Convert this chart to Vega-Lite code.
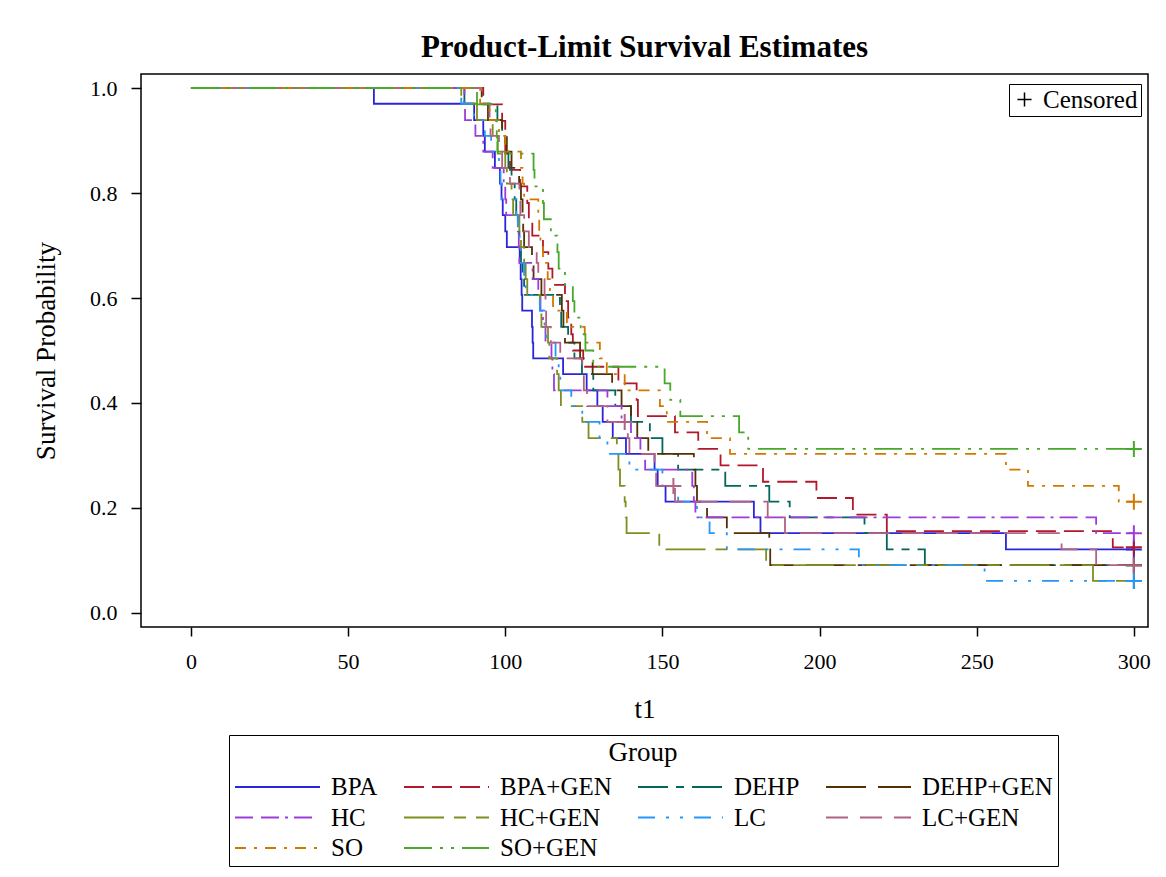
{
"$schema": "https://vega.github.io/schema/vega-lite/v6.json",
"width": 1007, "height": 553,
"autosize": {"type": "none"},
"padding": {"left": 141, "top": 74, "right": 18, "bottom": 250},
"background": "white",
"config": {"font": "Liberation Serif", "view": {"stroke": "#000", "strokeWidth": 1.5},
 "axis": {"labelFont": "Liberation Serif", "titleFont": "Liberation Serif"},
 "legend": {"labelFont": "Liberation Serif", "titleFont": "Liberation Serif"}},
"title": {"text": "Product-Limit Survival Estimates", "font": "Liberation Serif", "fontSize": 31, "fontWeight": "bold", "color": "black", "anchor": "middle", "offset": -14, "baseline": "alphabetic"},
"datasets": {
"km": [
{"group":"BPA","t":0,"s":1},{"group":"BPA","t":58.2,"s":0.970},{"group":"BPA","t":90.1,"s":0.939},{"group":"BPA","t":93,"s":0.909},{"group":"BPA","t":93.5,"s":0.879},{"group":"BPA","t":96.7,"s":0.848},{"group":"BPA","t":98.3,"s":0.818},{"group":"BPA","t":98.8,"s":0.788},{"group":"BPA","t":99.2,"s":0.758},{"group":"BPA","t":100,"s":0.727},{"group":"BPA","t":100.5,"s":0.697},{"group":"BPA","t":104.6,"s":0.667},{"group":"BPA","t":104.9,"s":0.636},{"group":"BPA","t":105.2,"s":0.606},{"group":"BPA","t":105.4,"s":0.576},{"group":"BPA","t":108.5,"s":0.545},{"group":"BPA","t":108.7,"s":0.515},{"group":"BPA","t":108.9,"s":0.485},{"group":"BPA","t":118.4,"s":0.455},{"group":"BPA","t":125.9,"s":0.424},{"group":"BPA","t":129.3,"s":0.394},{"group":"BPA","t":131,"s":0.364},{"group":"BPA","t":134.2,"s":0.333},{"group":"BPA","t":138.4,"s":0.303},{"group":"BPA","t":147.5,"s":0.273},{"group":"BPA","t":148.5,"s":0.242},{"group":"BPA","t":151,"s":0.212},{"group":"BPA","t":179.1,"s":0.182},{"group":"BPA","t":181.2,"s":0.152},{"group":"BPA","t":259.3,"s":0.121},{"group":"BPA","t":300,"s":0.121},
{"group":"BPA+GEN","t":0,"s":1},{"group":"BPA+GEN","t":93,"s":0.969},{"group":"BPA+GEN","t":99,"s":0.9375},{"group":"BPA+GEN","t":100,"s":0.875},{"group":"BPA+GEN","t":101.5,"s":0.844},{"group":"BPA+GEN","t":104.7,"s":0.8125},{"group":"BPA+GEN","t":107,"s":0.781},{"group":"BPA+GEN","t":107.5,"s":0.75},{"group":"BPA+GEN","t":108.6,"s":0.719},{"group":"BPA+GEN","t":112,"s":0.6875},{"group":"BPA+GEN","t":113.7,"s":0.656},{"group":"BPA+GEN","t":115,"s":0.625},{"group":"BPA+GEN","t":119,"s":0.594},{"group":"BPA+GEN","t":120,"s":0.5625},{"group":"BPA+GEN","t":121,"s":0.531},{"group":"BPA+GEN","t":121.5,"s":0.5},{"group":"BPA+GEN","t":124.8,"s":0.469},{"group":"BPA+GEN","t":136,"s":0.4375},{"group":"BPA+GEN","t":141.8,"s":0.406},{"group":"BPA+GEN","t":142.2,"s":0.375},{"group":"BPA+GEN","t":154,"s":0.344},{"group":"BPA+GEN","t":161.4,"s":0.3125},{"group":"BPA+GEN","t":168.5,"s":0.281},{"group":"BPA+GEN","t":182,"s":0.25},{"group":"BPA+GEN","t":199,"s":0.219},{"group":"BPA+GEN","t":210.6,"s":0.1875},{"group":"BPA+GEN","t":221.4,"s":0.156},{"group":"BPA+GEN","t":293.3,"s":0.125},{"group":"BPA+GEN","t":300,"s":0.125},
{"group":"DEHP","t":0,"s":1},{"group":"DEHP","t":87,"s":0.970},{"group":"DEHP","t":97.5,"s":0.939},{"group":"DEHP","t":99,"s":0.909},{"group":"DEHP","t":100,"s":0.879},{"group":"DEHP","t":101,"s":0.848},{"group":"DEHP","t":102,"s":0.818},{"group":"DEHP","t":103,"s":0.788},{"group":"DEHP","t":103.5,"s":0.758},{"group":"DEHP","t":104,"s":0.727},{"group":"DEHP","t":104.5,"s":0.697},{"group":"DEHP","t":105,"s":0.667},{"group":"DEHP","t":105.5,"s":0.636},{"group":"DEHP","t":106,"s":0.606},{"group":"DEHP","t":117.4,"s":0.576},{"group":"DEHP","t":117.8,"s":0.545},{"group":"DEHP","t":120,"s":0.515},{"group":"DEHP","t":122,"s":0.485},{"group":"DEHP","t":124.4,"s":0.455},{"group":"DEHP","t":128,"s":0.424},{"group":"DEHP","t":135,"s":0.394},{"group":"DEHP","t":140,"s":0.364},{"group":"DEHP","t":146,"s":0.333},{"group":"DEHP","t":150,"s":0.303},{"group":"DEHP","t":155,"s":0.273},{"group":"DEHP","t":170,"s":0.242},{"group":"DEHP","t":184,"s":0.212},{"group":"DEHP","t":190.5,"s":0.182},{"group":"DEHP","t":214.3,"s":0.152},{"group":"DEHP","t":221.4,"s":0.121},{"group":"DEHP","t":233.5,"s":0.091},{"group":"DEHP","t":300,"s":0.091},
{"group":"DEHP+GEN","t":0,"s":1},{"group":"DEHP+GEN","t":92.5,"s":0.970},{"group":"DEHP+GEN","t":94.5,"s":0.939},{"group":"DEHP+GEN","t":99,"s":0.909},{"group":"DEHP+GEN","t":100.5,"s":0.879},{"group":"DEHP+GEN","t":102,"s":0.848},{"group":"DEHP+GEN","t":104.4,"s":0.818},{"group":"DEHP+GEN","t":105,"s":0.788},{"group":"DEHP+GEN","t":105.5,"s":0.758},{"group":"DEHP+GEN","t":105.7,"s":0.727},{"group":"DEHP+GEN","t":106,"s":0.697},{"group":"DEHP+GEN","t":108.5,"s":0.667},{"group":"DEHP+GEN","t":109,"s":0.636},{"group":"DEHP+GEN","t":111.5,"s":0.606},{"group":"DEHP+GEN","t":118,"s":0.576},{"group":"DEHP+GEN","t":118.5,"s":0.545},{"group":"DEHP+GEN","t":119,"s":0.515},{"group":"DEHP+GEN","t":123.8,"s":0.485},{"group":"DEHP+GEN","t":127.8,"s":0.455},{"group":"DEHP+GEN","t":134,"s":0.424},{"group":"DEHP+GEN","t":137,"s":0.394},{"group":"DEHP+GEN","t":140,"s":0.364},{"group":"DEHP+GEN","t":142,"s":0.333},{"group":"DEHP+GEN","t":145.5,"s":0.303},{"group":"DEHP+GEN","t":160,"s":0.273},{"group":"DEHP+GEN","t":160.5,"s":0.242},{"group":"DEHP+GEN","t":161,"s":0.212},{"group":"DEHP+GEN","t":164.2,"s":0.182},{"group":"DEHP+GEN","t":170.5,"s":0.152},{"group":"DEHP+GEN","t":184,"s":0.121},{"group":"DEHP+GEN","t":184.3,"s":0.091},{"group":"DEHP+GEN","t":300,"s":0.091},
{"group":"HC","t":0,"s":1},{"group":"HC","t":87,"s":0.970},{"group":"HC","t":87.2,"s":0.939},{"group":"HC","t":90.5,"s":0.909},{"group":"HC","t":93,"s":0.879},{"group":"HC","t":96,"s":0.848},{"group":"HC","t":99.5,"s":0.818},{"group":"HC","t":100,"s":0.788},{"group":"HC","t":100.3,"s":0.758},{"group":"HC","t":104,"s":0.727},{"group":"HC","t":104.3,"s":0.697},{"group":"HC","t":104.5,"s":0.667},{"group":"HC","t":108.7,"s":0.636},{"group":"HC","t":110.5,"s":0.606},{"group":"HC","t":111.2,"s":0.576},{"group":"HC","t":112,"s":0.545},{"group":"HC","t":112.8,"s":0.515},{"group":"HC","t":114.7,"s":0.485},{"group":"HC","t":115,"s":0.455},{"group":"HC","t":115.5,"s":0.424},{"group":"HC","t":132.5,"s":0.394},{"group":"HC","t":137,"s":0.364},{"group":"HC","t":140,"s":0.333},{"group":"HC","t":143,"s":0.303},{"group":"HC","t":144.5,"s":0.273},{"group":"HC","t":159.5,"s":0.242},{"group":"HC","t":160,"s":0.212},{"group":"HC","t":160.5,"s":0.182},{"group":"HC","t":288,"s":0.152},{"group":"HC","t":300,"s":0.152},
{"group":"HC+GEN","t":0,"s":1},{"group":"HC+GEN","t":86,"s":0.970},{"group":"HC+GEN","t":91,"s":0.939},{"group":"HC+GEN","t":96,"s":0.909},{"group":"HC+GEN","t":97.5,"s":0.879},{"group":"HC+GEN","t":100,"s":0.848},{"group":"HC+GEN","t":100.5,"s":0.818},{"group":"HC+GEN","t":102,"s":0.788},{"group":"HC+GEN","t":102.5,"s":0.758},{"group":"HC+GEN","t":104.5,"s":0.727},{"group":"HC+GEN","t":105,"s":0.697},{"group":"HC+GEN","t":106,"s":0.667},{"group":"HC+GEN","t":106.5,"s":0.636},{"group":"HC+GEN","t":107,"s":0.606},{"group":"HC+GEN","t":111,"s":0.576},{"group":"HC+GEN","t":111.5,"s":0.545},{"group":"HC+GEN","t":113.6,"s":0.515},{"group":"HC+GEN","t":114,"s":0.485},{"group":"HC+GEN","t":116.5,"s":0.455},{"group":"HC+GEN","t":117,"s":0.424},{"group":"HC+GEN","t":117.7,"s":0.394},{"group":"HC+GEN","t":124.5,"s":0.364},{"group":"HC+GEN","t":126.5,"s":0.333},{"group":"HC+GEN","t":135.5,"s":0.303},{"group":"HC+GEN","t":136,"s":0.273},{"group":"HC+GEN","t":136.5,"s":0.242},{"group":"HC+GEN","t":138,"s":0.212},{"group":"HC+GEN","t":138.3,"s":0.182},{"group":"HC+GEN","t":138.6,"s":0.152},{"group":"HC+GEN","t":149,"s":0.121},{"group":"HC+GEN","t":183,"s":0.091},{"group":"HC+GEN","t":287,"s":0.061},{"group":"HC+GEN","t":300,"s":0.061},
{"group":"LC","t":0,"s":1},{"group":"LC","t":86,"s":0.970},{"group":"LC","t":90,"s":0.939},{"group":"LC","t":93.5,"s":0.909},{"group":"LC","t":95.5,"s":0.879},{"group":"LC","t":98,"s":0.848},{"group":"LC","t":98.5,"s":0.818},{"group":"LC","t":99,"s":0.788},{"group":"LC","t":103.5,"s":0.758},{"group":"LC","t":104,"s":0.727},{"group":"LC","t":104.5,"s":0.697},{"group":"LC","t":105,"s":0.667},{"group":"LC","t":106,"s":0.636},{"group":"LC","t":106.5,"s":0.606},{"group":"LC","t":111,"s":0.576},{"group":"LC","t":112.5,"s":0.545},{"group":"LC","t":113,"s":0.515},{"group":"LC","t":116,"s":0.485},{"group":"LC","t":117,"s":0.455},{"group":"LC","t":117.5,"s":0.424},{"group":"LC","t":121,"s":0.394},{"group":"LC","t":124.5,"s":0.364},{"group":"LC","t":130,"s":0.333},{"group":"LC","t":132.5,"s":0.303},{"group":"LC","t":139.5,"s":0.273},{"group":"LC","t":150,"s":0.242},{"group":"LC","t":155,"s":0.212},{"group":"LC","t":161,"s":0.182},{"group":"LC","t":165,"s":0.152},{"group":"LC","t":170.5,"s":0.121},{"group":"LC","t":212.5,"s":0.091},{"group":"LC","t":252.5,"s":0.061},{"group":"LC","t":300,"s":0.061},
{"group":"LC+GEN","t":0,"s":1},{"group":"LC+GEN","t":92.5,"s":0.970},{"group":"LC+GEN","t":95,"s":0.939},{"group":"LC+GEN","t":95.3,"s":0.909},{"group":"LC+GEN","t":98,"s":0.879},{"group":"LC+GEN","t":99,"s":0.848},{"group":"LC+GEN","t":101.5,"s":0.818},{"group":"LC+GEN","t":104.5,"s":0.788},{"group":"LC+GEN","t":104.8,"s":0.758},{"group":"LC+GEN","t":106,"s":0.727},{"group":"LC+GEN","t":107.5,"s":0.697},{"group":"LC+GEN","t":110,"s":0.667},{"group":"LC+GEN","t":110.5,"s":0.636},{"group":"LC+GEN","t":112.5,"s":0.606},{"group":"LC+GEN","t":112.8,"s":0.576},{"group":"LC+GEN","t":113,"s":0.545},{"group":"LC+GEN","t":114.5,"s":0.515},{"group":"LC+GEN","t":117.5,"s":0.485},{"group":"LC+GEN","t":124.5,"s":0.455},{"group":"LC+GEN","t":125,"s":0.424},{"group":"LC+GEN","t":126,"s":0.394},{"group":"LC+GEN","t":132.5,"s":0.364},{"group":"LC+GEN","t":139,"s":0.333},{"group":"LC+GEN","t":139.5,"s":0.303},{"group":"LC+GEN","t":147.5,"s":0.273},{"group":"LC+GEN","t":148,"s":0.242},{"group":"LC+GEN","t":154,"s":0.212},{"group":"LC+GEN","t":183.5,"s":0.182},{"group":"LC+GEN","t":189,"s":0.152},{"group":"LC+GEN","t":277,"s":0.121},{"group":"LC+GEN","t":288,"s":0.091},{"group":"LC+GEN","t":300,"s":0.091},
{"group":"SO","t":0,"s":1},{"group":"SO","t":92,"s":0.970},{"group":"SO","t":95,"s":0.939},{"group":"SO","t":98,"s":0.909},{"group":"SO","t":100,"s":0.879},{"group":"SO","t":105,"s":0.848},{"group":"SO","t":105.5,"s":0.818},{"group":"SO","t":106,"s":0.788},{"group":"SO","t":110.5,"s":0.758},{"group":"SO","t":110.8,"s":0.727},{"group":"SO","t":111.2,"s":0.697},{"group":"SO","t":112,"s":0.667},{"group":"SO","t":113.5,"s":0.636},{"group":"SO","t":114.2,"s":0.606},{"group":"SO","t":115.2,"s":0.576},{"group":"SO","t":119.6,"s":0.545},{"group":"SO","t":125.3,"s":0.515},{"group":"SO","t":130.1,"s":0.485},{"group":"SO","t":132.3,"s":0.455},{"group":"SO","t":138,"s":0.424},{"group":"SO","t":149.2,"s":0.394},{"group":"SO","t":151.4,"s":0.364},{"group":"SO","t":164.2,"s":0.333},{"group":"SO","t":171.5,"s":0.303},{"group":"SO","t":259.3,"s":0.273},{"group":"SO","t":266.3,"s":0.242},{"group":"SO","t":295.2,"s":0.212},{"group":"SO","t":300,"s":0.212},
{"group":"SO+GEN","t":0,"s":1},{"group":"SO+GEN","t":91,"s":0.969},{"group":"SO+GEN","t":97,"s":0.9375},{"group":"SO+GEN","t":97.3,"s":0.906},{"group":"SO+GEN","t":97.6,"s":0.875},{"group":"SO+GEN","t":109,"s":0.844},{"group":"SO+GEN","t":109.3,"s":0.8125},{"group":"SO+GEN","t":112,"s":0.781},{"group":"SO+GEN","t":112.3,"s":0.75},{"group":"SO+GEN","t":114.5,"s":0.719},{"group":"SO+GEN","t":116.6,"s":0.6875},{"group":"SO+GEN","t":117,"s":0.656},{"group":"SO+GEN","t":119,"s":0.625},{"group":"SO+GEN","t":121.5,"s":0.594},{"group":"SO+GEN","t":122,"s":0.5625},{"group":"SO+GEN","t":124,"s":0.531},{"group":"SO+GEN","t":125.5,"s":0.5},{"group":"SO+GEN","t":128,"s":0.469},{"group":"SO+GEN","t":150.7,"s":0.4375},{"group":"SO+GEN","t":152.5,"s":0.406},{"group":"SO+GEN","t":155.7,"s":0.375},{"group":"SO+GEN","t":174.4,"s":0.344},{"group":"SO+GEN","t":177.3,"s":0.3125},{"group":"SO+GEN","t":300,"s":0.3125}
],
"cens": [
{"group":"BPA","t":300,"s":0.121,"c":"Censored"},
{"group":"BPA+GEN","t":300,"s":0.125,"c":"Censored"},
{"group":"DEHP","t":300,"s":0.091,"c":"Censored"},
{"group":"DEHP+GEN","t":300,"s":0.091,"c":"Censored"},
{"group":"HC","t":300,"s":0.152,"c":"Censored"},
{"group":"HC+GEN","t":300,"s":0.061,"c":"Censored"},
{"group":"LC","t":300,"s":0.061,"c":"Censored"},
{"group":"LC+GEN","t":138,"s":0.364,"c":"Censored"},
{"group":"LC+GEN","t":153.5,"s":0.242,"c":"Censored"},
{"group":"LC+GEN","t":300,"s":0.091,"c":"Censored"},
{"group":"SO","t":300,"s":0.212,"c":"Censored"},
{"group":"SO+GEN","t":300,"s":0.3125,"c":"Censored"}
]
},
"layer": [
{
"data": {"name": "km"},
"mark": {"type": "line", "interpolate": "step-after", "strokeWidth": 1.8},
"encoding": {
"x": {"field": "t", "type": "quantitative", "scale": {"domain": [-15.9, 304.5], "nice": false, "zero": false},
 "axis": {"title": "t1", "values": [0,50,100,150,200,250,300], "grid": false, "domain": false, "ticks": true, "tickSize": 9, "tickWidth": 1.5, "tickColor": "#000", "labelFont": "Liberation Serif", "labelFontSize": 22, "labelColor": "#000", "labelPadding": 15, "titleFont": "Liberation Serif", "titleFontSize": 27, "titleFontWeight": "normal", "titleColor": "#000", "titlePadding": 24}},
"y": {"field": "s", "type": "quantitative", "scale": {"domain": [-0.0267, 1.0267], "nice": false, "zero": false},
 "axis": {"title": "Survival Probability", "values": [0,0.2,0.4,0.6,0.8,1.0], "format": ".1f", "grid": false, "domain": false, "tickSize": 10, "tickWidth": 1.5, "tickColor": "#000", "labelFont": "Liberation Serif", "labelFontSize": 22, "labelColor": "#000", "labelPadding": 14, "titleFont": "Liberation Serif", "titleFontSize": 27, "titleFontWeight": "normal", "titleColor": "#000", "titlePadding": 29}},
"color": {"field": "group", "type": "nominal",
 "scale": {"domain": ["BPA","BPA+GEN","DEHP","DEHP+GEN","HC","HC+GEN","LC","LC+GEN","SO","SO+GEN"], "range": ["#2A25D9","#B2182B","#01665E","#543005","#9D3CDB","#7F8E1F","#2597FA","#B26084","#D17800","#47A82A"]},
 "legend": {"title": "Group", "orient": "none", "legendX": 88, "legendY": 661, "direction": "horizontal", "columns": 4, "titleAnchor": "middle", "titleFont": "Liberation Serif", "titleFontSize": 27, "titleFontWeight": "normal", "titleColor": "#000", "labelFont": "Liberation Serif", "labelFontSize": 25, "labelColor": "#000", "symbolType": "stroke", "symbolSize": 7225, "symbolStrokeWidth": 1.8, "clipHeight": 20, "rowPadding": 5.5, "columnPadding": 25, "labelOffset": 10, "strokeColor": "#000", "padding": 5, "titlePadding": 10, "labelLimit": 400}},
"strokeDash": {"field": "group", "type": "nominal",
 "scale": {"domain": ["BPA","BPA+GEN","DEHP","DEHP+GEN","HC","HC+GEN","LC","LC+GEN","SO","SO+GEN"], "range": [[1,0],[20,8],[30,8,8,8],[40,12],[18,8,18,6,3,6],[40,10,12,10],[17,11,3,11,3,11],[22,12],[11,8,3,8],[28,8,3,8,3,8]]},
 "legend": {"title": "Group", "orient": "none", "legendX": 88, "legendY": 661, "direction": "horizontal", "columns": 4, "titleAnchor": "middle", "titleFont": "Liberation Serif", "titleFontSize": 27, "titleFontWeight": "normal", "titleColor": "#000", "labelFont": "Liberation Serif", "labelFontSize": 25, "labelColor": "#000", "symbolType": "stroke", "symbolSize": 7225, "symbolStrokeWidth": 1.8, "clipHeight": 20, "rowPadding": 5.5, "columnPadding": 25, "labelOffset": 10, "strokeColor": "#000", "padding": 5, "titlePadding": 10, "labelLimit": 400}},
"order": {"field": "t", "type": "quantitative"}
}
},
{
"data": {"name": "cens"},
"mark": {"type": "point", "filled": false, "strokeWidth": 2, "size": 256, "opacity": 1},
"encoding": {
"x": {"field": "t", "type": "quantitative"},
"y": {"field": "s", "type": "quantitative"},
"color": {"field": "group", "type": "nominal", "legend": null},
"shape": {"field": "c", "type": "nominal", "scale": {"domain": ["Censored"], "range": ["M-1,0H1M0,-1V1"]},
 "legend": {"title": null, "orient": "none", "legendX": 868, "legendY": 10, "labelFont": "Liberation Serif", "labelFontSize": 25, "labelColor": "#000", "symbolStrokeColor": "#000", "symbolFillColor": "transparent", "symbolSize": 200, "symbolStrokeWidth": 1.5, "strokeColor": "#000", "padding": 3, "labelOffset": 6}}
}
}
]
}
